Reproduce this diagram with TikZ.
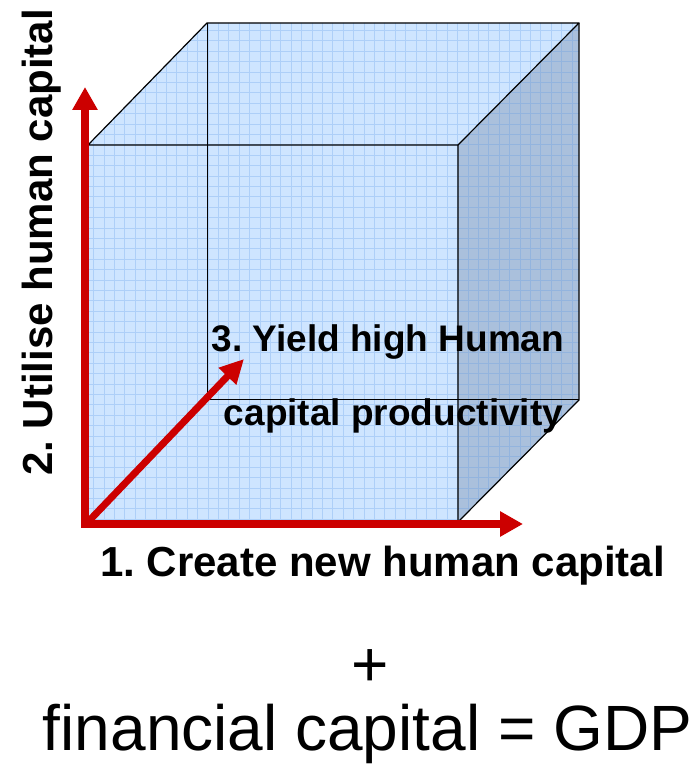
\documentclass[tikz,border=0pt]{standalone}
\usepackage{fontspec}
\setmainfont{Liberation Sans}
\usetikzlibrary{arrows.meta}
\frenchspacing
\tikzset{
  cubeedge/.style={draw=black,line width=1.2pt,line join=round},
  axisarrow/.style={draw=arrowColor,line width=8pt,-{Triangle[length=23pt,width=24pt]}},
  axislabel/.style={text=black,anchor=base,inner sep=0pt,outer sep=0pt,font=\bfseries\fontsize{42}{50}\selectfont},
  innerlabel/.style={text=black,anchor=base,inner sep=0pt,outer sep=0pt,font=\bfseries\fontsize{37}{44}\selectfont},
  sumlabel/.style={text=black,anchor=base,inner sep=0pt,outer sep=0pt,font=\fontsize{64}{76}\selectfont}
}
\begin{document}
\begin{tikzpicture}[x=1pt,y=1pt]
\definecolor{fillColor}{RGB}{255,255,255}
\path[use as bounding box,fill=fillColor] (0,0) rectangle (698,769);

\coordinate (fbl) at (88,247);
\coordinate (ftl) at (88,624);
\coordinate (ftr) at (458,624);
\coordinate (fbr) at (458,247);
\coordinate (btl) at (207,746);
\coordinate (btr) at (579,746);
\coordinate (bbr) at (579,369);
\coordinate (bbl) at (207,369);

\definecolor{frontColor}{RGB}{206,229,255}
\path[fill=frontColor] (fbl) -- (ftl) -- (btl) -- (btr) -- (bbr) -- (fbr) -- cycle;
\definecolor{sideColor}{RGB}{170,192,220}
\path[fill=sideColor] (ftr) -- (btr) -- (bbr) -- (fbr) -- cycle;
\begin{scope}
\path[clip] (fbl) -- (ftl) -- (btl) -- (btr) -- (bbr) -- (fbr) -- cycle;
\definecolor{gridColor}{RGB}{90,150,230}
\path[draw=gridColor,draw opacity=0.28,line width=1pt,step=10.4] (80,240) grid (590,750);
\end{scope}

\path[cubeedge] (ftl) -- (btl) -- (btr) -- (ftr) -- cycle;
\path[cubeedge] (ftr) -- (fbr) -- (bbr) -- (btr);
\path[cubeedge] (fbl) -- (ftl);
\path[cubeedge] (fbl) -- (fbr);
\path[draw=black,line width=1pt] (btl) -- (bbl) -- (bbr);

\definecolor{arrowColor}{RGB}{204,0,0}
\coordinate (ybase) at (85,241);
\coordinate (ytip) at (85,682);
\coordinate (xbase) at (81,245);
\coordinate (xtip) at (523,245);
\coordinate (zbase) at (87,246);
\coordinate (ztip) at (244,410);
\path[axisarrow] (ybase) -- (ytip);
\path[axisarrow] (xbase) -- (xtip);
\path[axisarrow,line width=7pt,-{Triangle[length=24pt,width=23pt]}] (zbase) -- (ztip);

\node[axislabel] (create) at (382.5,192) {1. Create new human capital};
\node[axislabel,rotate=90] (utilise) at (52,526.5) {2. Utilise human capital};
\node[innerlabel] (yield) at (388,417) {3. Yield high Human};
\node[innerlabel] (productivity) at (393.5,343) {capital productivity};
\node[sumlabel] (plus) at (370,82) {+};
\node[sumlabel] (gdp) at (367.5,18) {financial capital = GDP};
\end{tikzpicture}
\end{document}
